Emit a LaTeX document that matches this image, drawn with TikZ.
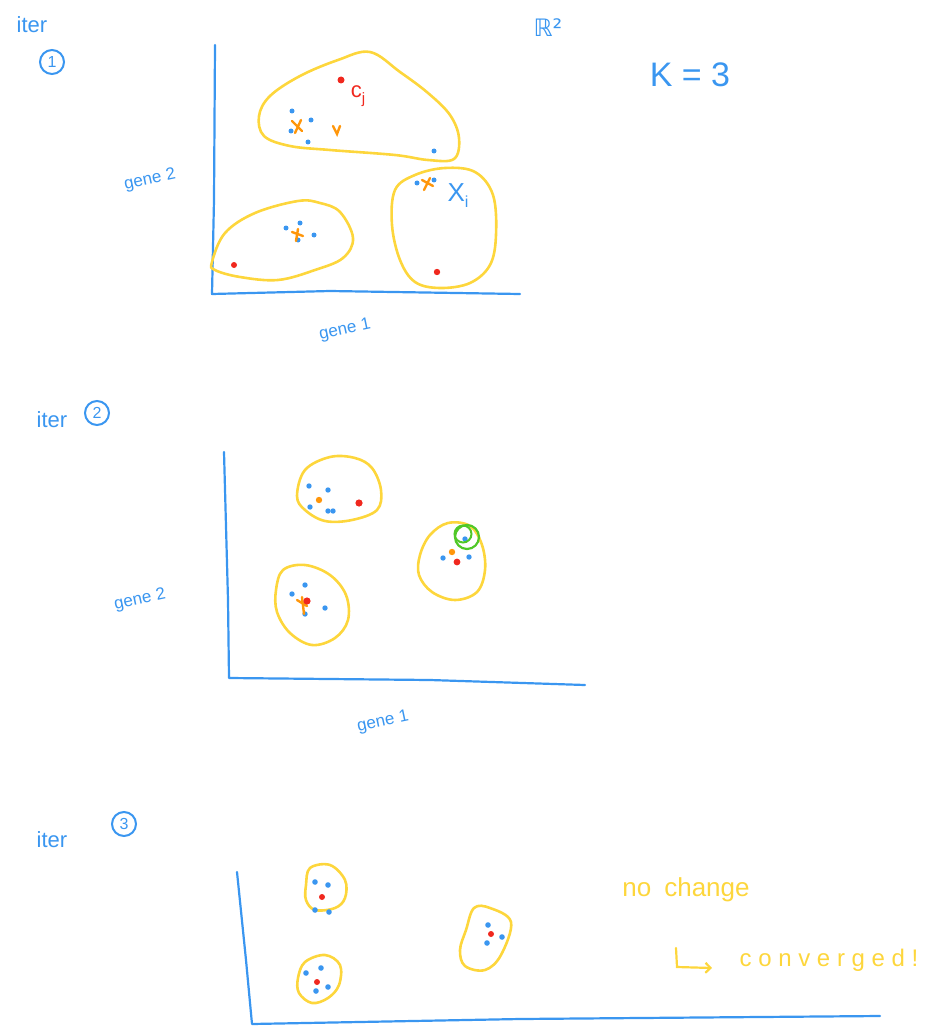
\documentclass[tikz,border=0pt]{standalone}
\usepackage{fontspec}
\setmainfont{Liberation Sans}
\newfontfamily\symfont{DejaVu Sans}
\usetikzlibrary{arrows.meta}
\definecolor{pblue}{RGB}{58,150,240}
\definecolor{pyel}{RGB}{253,214,60}
\definecolor{pred}{RGB}{240,40,30}
\definecolor{porg}{RGB}{255,150,10}
\definecolor{pgrn}{RGB}{80,200,40}
\tikzset{
  axis/.style={draw=pblue,line width=2.2pt,line cap=round,line join=round},
  clus/.style={draw=pyel,line width=2.6pt,line cap=round},
  hand/.style={text=pblue,inner sep=0pt},
  bdot/.style={fill=pblue},
  rdot/.style={fill=pred},
  ocross/.style={draw=porg,line width=2.4pt,line cap=round},
  itercirc/.style={draw=pblue,line width=2pt,circle,minimum size=24pt,inner sep=0pt,text=pblue}
}
\newcommand{\fs}[1]{\fontsize{#1}{#1}\selectfont}
\begin{document}
\begin{tikzpicture}[x=1pt,y=-1pt]
\useasboundingbox (0,0) rectangle (932,1027);
% ================= panel 1 =================
\node[hand,font=\fs{22}] (it1) at (32,25) {iter};
\node[itercirc,font=\fs{16}] (c1) at (52,62) {1};
\node[hand,font=\fs{24}] (r2) at (548,28) {\symfont ℝ²};
\node[hand,font=\fs{34}] (k3) at (690,75) {K = 3};
\coordinate (a1t) at (215,45);
\coordinate (a1o) at (212,294);
\coordinate (a1r) at (520,294);
\draw[axis] (a1t) -- (214,200) -- (a1o) -- (330,291) -- (a1r);
\node[hand,font=\fs{17},rotate=12] (g12) at (150,180) {gene 2};
\node[hand,font=\fs{17},rotate=12] (g11) at (345,330) {gene 1};
% clusters
\draw[clus] plot[smooth cycle,tension=0.6] coordinates {(370,52) (400,72) (428,93) (450,115) (459,138) (454,159) (428,160) (395,155) (330,150) (290,146) (264,136) (259,116) (270,96) (300,76) (338,60)};
\draw[clus] plot[smooth cycle,tension=0.6] coordinates {(212,262) (225,233) (255,213) (298,201) (320,203) (340,212) (353,238) (343,258) (315,270) (278,280) (240,277) (215,270)};
\draw[clus] plot[smooth cycle,tension=0.6] coordinates {(395,190) (415,175) (445,168) (475,172) (493,195) (496,235) (490,265) (470,283) (440,288) (415,282) (400,260) (392,225)};
% points
\fill[rdot] (341,80) circle (3.5);
\node[text=pred,inner sep=0pt,font=\fs{22}] (cj) at (358,96) {c\raisebox{-6pt}{\fs{15}j}};
\foreach \p in {(292,111),(311,120),(291,131),(308,142),(434,151),(286,228),(300,223),(314,235),(298,240),(417,183),(434,180)} \fill[bdot] \p circle (2.5);
\draw[ocross] (292,121) -- (302,131) (301,120) -- (295,133);
\draw[ocross] (333,126) -- (337,134) -- (340,126);
\draw[ocross] (292,232) -- (303,236) (298,229) -- (296,241);
\draw[ocross] (422,180) -- (433,186) (430,178) -- (424,190);
\fill[rdot] (234,265) circle (3);
\fill[rdot] (437,272) circle (3.2);
\node[hand,font=\fs{26}] (xi) at (458,196) {X\raisebox{-6pt}{\fs{16}i}};
% ================= panel 2 =================
\node[hand,font=\fs{22}] (it2) at (52,420) {iter};
\node[itercirc,font=\fs{16}] (c2) at (97,413) {2};
\coordinate (a2t) at (224,452);
\coordinate (a2o) at (229,678);
\coordinate (a2r) at (585,685);
\draw[axis] (a2t) -- (228,600) -- (a2o) -- (430,680) -- (a2r);
\node[hand,font=\fs{17},rotate=12] (g22) at (140,600) {gene 2};
\node[hand,font=\fs{17},rotate=12] (g21) at (383,722) {gene 1};
\draw[clus] plot[smooth cycle,tension=0.6] coordinates {(297,496) (305,470) (330,457) (355,458) (372,468) (381,490) (377,510) (352,520) (325,521) (305,510)};
\draw[clus] plot[smooth cycle,tension=0.6] coordinates {(276,590) (283,570) (305,565) (330,575) (346,595) (348,620) (335,638) (312,645) (290,633) (277,612)};
\draw[clus] plot[smooth cycle,tension=0.6] coordinates {(420,555) (430,535) (448,523) (470,526) (482,545) (485,570) (477,592) (455,600) (432,592) (419,575)};
\foreach \p in {(309,486),(328,490),(310,507),(328,511),(333,511),(305,585),(292,594),(325,608),(305,614),(465,539),(443,558),(469,557)} \fill[bdot] \p circle (2.7);
\fill[porg] (319,500) circle (3.2);
\fill[porg] (452,552) circle (3.2);
\draw[ocross] (297,600) -- (307,606) (302,597) -- (304,614);
\fill[rdot] (359,503) circle (3.6);
\fill[rdot] (307,601) circle (3.6);
\fill[rdot] (457,562) circle (3.4);
\draw[draw=pgrn,line width=2.2pt] (467,537) circle (12);
\draw[draw=pgrn,line width=2pt] (463,534) circle (8.5);
% ================= panel 3 =================
\node[hand,font=\fs{22}] (it3) at (52,840) {iter};
\node[itercirc,font=\fs{16}] (c3) at (124,824) {3};
\coordinate (a3t) at (237,872);
\coordinate (a3o) at (252,1024);
\coordinate (a3r) at (880,1016);
\draw[axis] (a3t) -- (246,960) -- (a3o) -- (520,1019) -- (a3r);
\draw[clus] plot[smooth cycle,tension=0.6] coordinates {(306,885) (310,868) (330,865) (345,880) (345,898) (335,908) (315,910) (306,900)};
\draw[clus] plot[smooth cycle,tension=0.6] coordinates {(298,978) (305,962) (325,955) (340,965) (339,985) (328,998) (312,1003) (299,993)};
\draw[clus] plot[smooth cycle,tension=0.6] coordinates {(474,908) (490,908) (511,922) (501,955) (485,970) (465,966) (460,950) (466,930)};
\foreach \p in {(315,882),(328,885),(315,910),(329,912),(306,973),(321,968),(328,987),(316,991),(488,925),(502,937),(487,943)} \fill[bdot] \p circle (2.8);
\foreach \p in {(322,897),(317,982),(491,934)} \fill[rdot] \p circle (3);
\node[text=pyel,inner sep=0pt,font=\fs{26}] (nc) at (686,890) {no\enspace change};
\coordinate (arrs) at (676,948);
\coordinate (arre) at (712,968);
\draw[draw=pyel,line width=2.2pt,line cap=round,-{Straight Barb[length=5pt]}] (arrs) -- (677,967) -- (arre);
\node[text=pyel,inner sep=0pt,font=\fs{24}] (cv) at (829,960) {c o n v e r g e d !};
\end{tikzpicture}
\end{document}
